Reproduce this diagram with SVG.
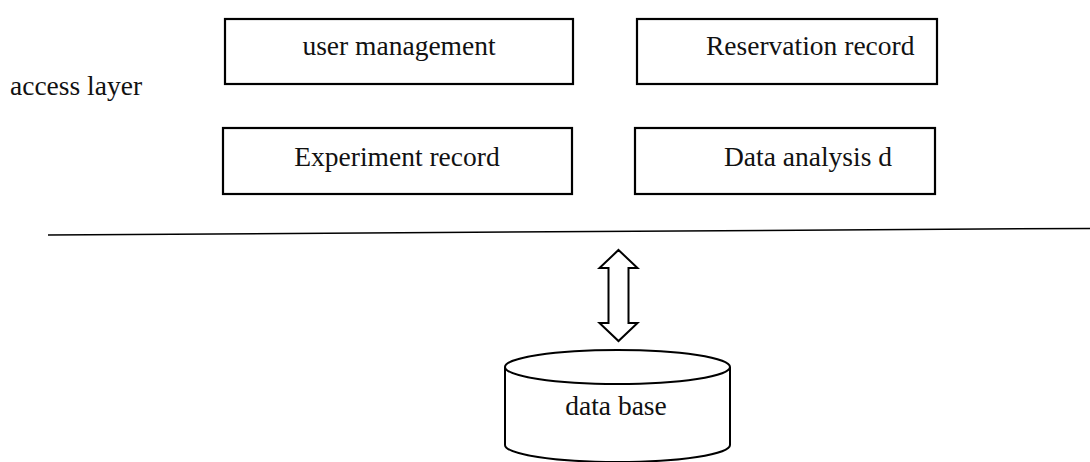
<svg xmlns="http://www.w3.org/2000/svg" width="1090" height="462" viewBox="0 0 1090 462">
<style>
.box{fill:#fff;stroke:#000;stroke-width:2.2}
.t{font-family:"Liberation Serif","Times New Roman",serif;font-size:27.5px;fill:#111}
.c{text-anchor:middle}
.shape{fill:#fff;stroke:#000;stroke-width:2}
</style>
<rect width="1090" height="462" fill="#fff"/>
<text id="label-access" class="t" x="10" y="95">access layer</text>
<g id="user-management"><rect class="box" x="225" y="19" width="348" height="65"/><text class="t c" x="399" y="55">user management</text></g>
<g id="reservation-record"><rect class="box" x="637" y="19" width="300" height="65"/><text class="t" x="706" y="55">Reservation record</text></g>
<g id="experiment-record"><rect class="box" x="223" y="128" width="349" height="66"/><text class="t c" x="397" y="166">Experiment record</text></g>
<g id="data-analysis"><rect class="box" x="635" y="128" width="300" height="66"/><text class="t" x="724" y="166">Data analysis d</text></g>
<g id="connectors">
<line x1="48" y1="235" x2="1090" y2="228.4" stroke="#000" stroke-width="1.5"/>
<polygon class="shape" points="618.5,250 637.5,268 628.5,268 628.5,323 637.5,323 618.5,341 599.5,323 608.5,323 608.5,268 599.5,268"/>
</g>
<g id="database">
<path class="shape" d="M505,367 L505,445 A112.5,17 0 0 0 730,445 L730,367"/>
<ellipse class="shape" cx="617.5" cy="367" rx="112.5" ry="17"/>
<text class="t c" x="616" y="415">data base</text>
</g>
</svg>
